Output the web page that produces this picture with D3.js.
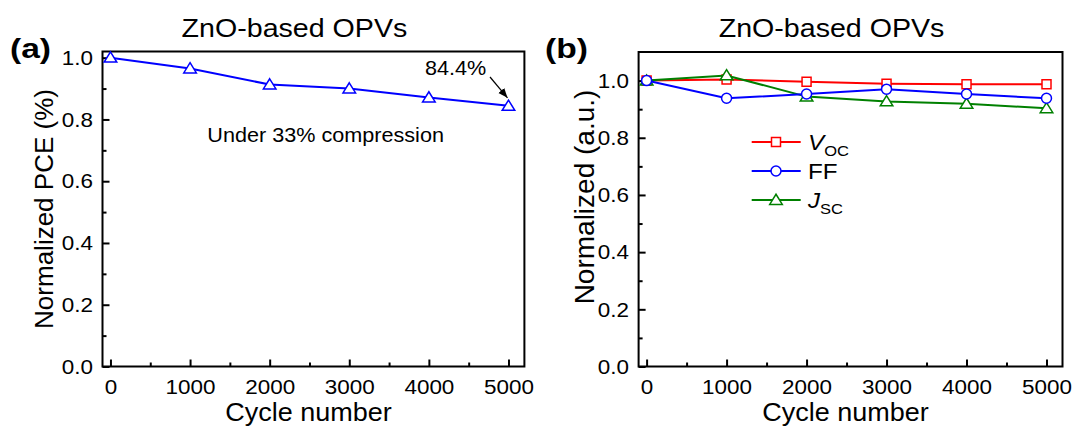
<!DOCTYPE html>
<html>
<head>
<meta charset="utf-8">
<script src="https://cdn.jsdelivr.net/npm/d3@7"></script>
<style>
  body { margin: 0; background: #fff; }
  text { font-family: "Liberation Sans", Arial, sans-serif; fill: #000; }
</style>
</head>
<body>
<script>
(function() {

	var width = 1074;
	var height = 430;

	// data
	var cycles = [0, 1000, 2000, 3000, 4000, 5000];
	var pce = [1.0, 0.965, 0.913, 0.900, 0.871, 0.844];
	var voc = [1.0, 1.004, 0.996, 0.989, 0.987, 0.987];
	var ff = [1.0, 0.938, 0.953, 0.970, 0.953, 0.938];
	var jsc = [1.0, 1.018, 0.944, 0.927, 0.919, 0.903];

	var xMajor = [0, 1000, 2000, 3000, 4000, 5000];
	var xMinor = [500, 1500, 2500, 3500, 4500];
	var yMajor = [0, 0.2, 0.4, 0.6, 0.8, 1.0];
	var yMinor = [0.1, 0.3, 0.5, 0.7, 0.9];

	var svg = d3.select('body')
		.append('svg')
			.attr('width', width)
			.attr('height', height);

	// text helper, the picture's text is a bit wider than plain Arial
	function label(g, txt, x, y, size, sx, anchor) {
		return g.append('text')
			.attr('transform', 'translate(' + x + ',' + y + ') scale(' + sx + ',1)')
			.attr('text-anchor', anchor || 'start')
			.style('font-size', size + 'px')
			.text(txt);
	}

	var tri = {
		draw: function(ctx, size) {
			var s = Math.sqrt(size);
			ctx.moveTo(0, -0.55 * s);
			ctx.lineTo(0.6 * s, 0.42 * s);
			ctx.lineTo(-0.6 * s, 0.42 * s);
			ctx.closePath();
		}
	};

	function panel(opt) {
		var x = d3.scaleLinear().domain([-100, 5200]).range([opt.left, opt.right]);
		var y = d3.scaleLinear().domain(opt.yDomain).range([opt.bottom, opt.top]);
		var g = svg.append('g');

		// inward ticks, bottom and left only
		g.append('g')
			.attr('transform', 'translate(0,' + opt.bottom + ')')
			.call(d3.axisBottom(x).tickValues(xMajor).tickSize(-7).tickPadding(13).tickFormat(d3.format('d')));
		g.append('g')
			.attr('transform', 'translate(0,' + opt.bottom + ')')
			.call(d3.axisBottom(x).tickValues(xMinor).tickSize(-4).tickFormat(''));
		g.append('g')
			.attr('transform', 'translate(' + opt.left + ',0)')
			.call(d3.axisLeft(y).tickValues(yMajor).tickSize(-7).tickPadding(9).tickFormat(d3.format('.1f')));
		g.append('g')
			.attr('transform', 'translate(' + opt.left + ',0)')
			.call(d3.axisLeft(y).tickValues(yMinor).tickSize(-4).tickFormat(''));

		g.selectAll('.domain').remove();
		g.selectAll('.tick line').style('stroke', '#000').style('stroke-width', 2);
		g.selectAll('.tick text')
			.style('font-size', '21px')
			.style('font-family', '"Liberation Sans", Arial, sans-serif')
			.attr('transform', 'scale(1.07,1)');

		g.append('rect')
			.attr('x', opt.left)
			.attr('y', opt.top)
			.attr('width', opt.right - opt.left)
			.attr('height', opt.bottom - opt.top)
			.style('fill', 'none')
			.style('stroke', '#000')
			.style('stroke-width', 2);

		var line = d3.line()
			.x(function(d) { return x(d[0]); })
			.y(function(d) { return y(d[1]); });

		opt.series.forEach(function(s) {
			var pts = cycles.map(function(c, i) { return [c, s.values[i]]; });
			g.append('path')
				.datum(pts)
				.attr('d', line)
				.style('fill', 'none')
				.style('stroke', s.color)
				.style('stroke-width', 2);
			g.selectAll(null)
				.data(pts)
				.enter()
				.append('path')
					.attr('transform', function(d) { return 'translate(' + x(d[0]) + ',' + y(d[1]) + ')'; })
					.attr('d', d3.symbol().type(s.symbol).size(s.size))
					.style('fill', '#fff')
					.style('stroke', s.color)
					.style('stroke-width', 1.5);
		});

		var mid = (opt.left + opt.right) / 2;
		label(g, 'ZnO-based OPVs', mid - 19, 37, 26, 1.1, 'middle');
		label(g, 'Cycle number', mid - 5, 421, 25, 1.08, 'middle');
		label(g, opt.tag, opt.tagX, 58, 28, 1.2).style('font-weight', 'bold');

		g.append('text')
			.attr('transform', 'translate(' + opt.yLabelX + ',' + opt.yLabelY + ') rotate(-90)')
			.attr('text-anchor', 'middle')
			.style('font-size', opt.yLabelSize + 'px')
			.text(opt.yLabel);

		return { g: g, x: x, y: y };
	}

	var a = panel({
		left: 102.5, right: 524.4, top: 51.5, bottom: 366.5,
		yDomain: [0, 1.02],
		tag: '(a)', tagX: 10,
		yLabel: 'Normalized PCE (%)', yLabelX: 53, yLabelY: 209, yLabelSize: 26,
		series: [{ values: pce, color: '#0000ff', symbol: tri, size: 110 }]
	});

	var b = panel({
		left: 638.6, right: 1062.5, top: 52, bottom: 366.5,
		yDomain: [0, 1.1],
		tag: '(b)', tagX: 545,
		yLabel: 'Normalized (a.u.)', yLabelX: 594, yLabelY: 197, yLabelSize: 28,
		series: [
			{ values: voc, color: '#ff0000', symbol: d3.symbolSquare, size: 81 },
			{ values: jsc, color: '#008000', symbol: tri, size: 110 },
			{ values: ff, color: '#0000ff', symbol: d3.symbolCircle, size: 78 }
		]
	});

	// panel (a) notes
	label(a.g, 'Under 33% compression', 207.3, 141.7, 21, 1.03);
	label(a.g, '84.4%', 425, 75, 20, 1.08);

	svg.append('defs')
		.append('marker')
			.attr('id', 'head')
			.attr('viewBox', '0 0 10 10')
			.attr('refX', 10)
			.attr('refY', 5)
			.attr('markerWidth', 8)
			.attr('markerHeight', 8)
			.attr('orient', 'auto')
		.append('path')
			.attr('d', 'M0,1 L10,5 L0,9 Z')
			.style('fill', '#000');

	a.g.append('line')
		.attr('x1', 490)
		.attr('y1', 77)
		.attr('x2', a.x(5000) - 1)
		.attr('y2', a.y(0.844) - 8)
		.attr('marker-end', 'url(#head)')
		.style('stroke', '#000')
		.style('stroke-width', 1.2);

	// legend in panel (b)
	var legend = [
		{ name: 'V', sub: 'OC', color: '#ff0000', symbol: d3.symbolSquare, size: 81 },
		{ name: 'FF', sub: '', color: '#0000ff', symbol: d3.symbolCircle, size: 78 },
		{ name: 'J', sub: 'SC', color: '#008000', symbol: tri, size: 110 }
	];
	var rowY = [142, 171, 200];

	legend.forEach(function(d, i) {
		var lg = b.g.append('g').attr('transform', 'translate(0,' + rowY[i] + ')');
		lg.append('line')
			.attr('x1', 751.7)
			.attr('x2', 800.7)
			.style('stroke', d.color)
			.style('stroke-width', 2);
		lg.append('path')
			.attr('transform', 'translate(776,0)')
			.attr('d', d3.symbol().type(d.symbol).size(d.size))
			.style('fill', '#fff')
			.style('stroke', d.color)
			.style('stroke-width', 1.5);
		var t = lg.append('text')
			.attr('transform', 'translate(808,8) scale(1.1,1)')
			.style('font-size', '22px');
		t.append('tspan')
			.style('font-style', d.sub ? 'italic' : 'normal')
			.text(d.name);
		if (d.sub) {
			t.append('tspan')
				.attr('dy', 6)
				.style('font-size', '15px')
				.text(d.sub);
		}
	});

})();
</script>
</body>
</html>
